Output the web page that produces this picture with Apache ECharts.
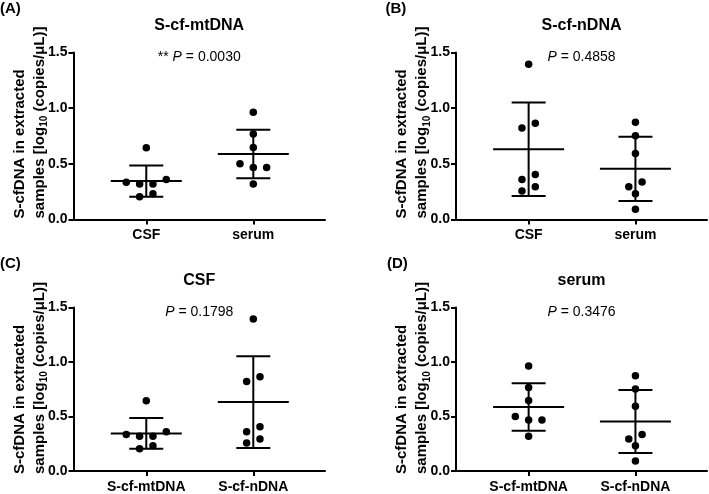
<!DOCTYPE html>
<html><head><meta charset="utf-8">
<script src="https://cdn.jsdelivr.net/npm/echarts@6/dist/echarts.min.js"></script>
<style>html,body{margin:0;padding:0;background:#fff}#c{width:709px;height:494px}</style>
</head><body><div id="c"></div>
<script>
// ---- data ----
const topCategories = ['CSF', 'serum'];
const bottomCategories = ['S-cf-mtDNA', 'S-cf-nDNA'];
const yTicks = [0, 0.5, 1.0, 1.5];

const mtCSF   = [0.644, 0.334, 0.318, 0.318, 0.360, 0.205, 0.231];
const mtSerum = [0.964, 0.767, 0.647, 0.500, 0.468, 0.468, 0.318];
const nCSF    = [1.395, 0.865, 0.821, 0.405, 0.360, 0.294, 0.256];
const nSerum  = [0.874, 0.752, 0.593, 0.336, 0.294, 0.231, 0.091];

// mean and SD (error bars)
const mtCSFStats   = [0.345, 0.141];
const mtSerumStats = [0.588, 0.218];
const nCSFStats    = [0.632, 0.420];
const nSerumStats  = [0.455, 0.289];

// horizontal scatter slots (scatter-dot-plot spreading)
const mtCSFSlot   = [0, -3, -1, 1, 3, -1, 1];
const mtSerumSlot = [0, 0, 0, -2, 0, 2, 0];
const nCSFSlot    = [0, 1, -1, 1, -1, 1, -1];
const nSerumSlot  = [0, 0, 0, 1, -1, 0, 0];

const panelLetters = ['(A)', '(B)', '(C)', '(D)'];
const panelTitles = ['S-cf-mtDNA', 'S-cf-nDNA', 'CSF', 'serum'];
const pPrefix = ['** ', '', '', ''];
const pValues = ['0.0030', '0.4858', '0.1798', '0.3476'];

// ---- layout / style ----
const FONT = '"Liberation Sans", Arial, Helvetica, sans-serif';
const grids = [
  {left: 73.5, top: 52.5, width: 251.5, height: 167},
  {left: 456,  top: 52.5, width: 251,   height: 167},
  {left: 73.5, top: 307.5, width: 251.5, height: 167.5},
  {left: 456,  top: 307.5, width: 251,   height: 167.5}
];
const letterPos = [[0, 9], [385.5, 9], [0, 264], [387, 264]];
const X_MIN = 0.32, X_MAX = 2.67, SLOT = 0.0623;

const panels = [
  {cats: topCategories, groups: [[mtCSF, mtCSFSlot, mtCSFStats], [mtSerum, mtSerumSlot, mtSerumStats]]},
  {cats: topCategories, groups: [[nCSF, nCSFSlot, nCSFStats], [nSerum, nSerumSlot, nSerumStats]]},
  {cats: bottomCategories, groups: [[mtCSF, mtCSFSlot, mtCSFStats], [nCSF, nCSFSlot, nCSFStats]]},
  {cats: bottomCategories, groups: [[mtSerum, mtSerumSlot, mtSerumStats], [nSerum, nSerumSlot, nSerumStats]]}
];

const black = '#000';
const xAxes = [], yAxes = [], series = [], graphics = [];

panels.forEach((p, i) => {
  xAxes.push({
    type: 'value', gridIndex: i, min: X_MIN, max: X_MAX,
    axisLine: {show: true, onZero: false, lineStyle: {color: black, width: 2}},
    axisTick: {show: true, customValues: [1, 2], length: 5, lineStyle: {color: black, width: 2}},
    axisLabel: {show: true, customValues: [1, 2], formatter: v => p.cats[Math.round(v) - 1],
      margin: 9, color: black, fontWeight: 'bold', fontSize: 14, fontFamily: FONT},
    splitLine: {show: false}
  });
  yAxes.push({
    type: 'value', gridIndex: i, min: yTicks[0], max: yTicks[yTicks.length - 1], interval: 0.5,
    axisLine: {show: true, lineStyle: {color: black, width: 2}},
    axisTick: {show: true, length: 5, lineStyle: {color: black, width: 2}},
    axisLabel: {formatter: v => v.toFixed(1), margin: 6, color: black, fontWeight: 'bold', fontSize: 14, fontFamily: FONT},
    splitLine: {show: false}
  });
  p.groups.forEach((g, gi) => {
    const [vals, slots] = g;
    series.push({
      type: 'scatter', xAxisIndex: i, yAxisIndex: i, symbol: 'circle', symbolSize: 7.5,
      itemStyle: {color: black, opacity: 1}, z: 3, silent: true,
      data: vals.map((v, k) => [gi + 1 + slots[k] * SLOT, v])
    });
  });
  series.push({
    type: 'custom', xAxisIndex: i, yAxisIndex: i, z: 2, silent: true,
    encode: {x: 0, y: 1},
    data: p.groups.map((g, gi) => [gi + 1, g[2][0], g[2][1]]),
    renderItem: (params, api) => {
      const x = api.value(0), m = api.value(1), s = api.value(2);
      const c = api.coord([x, m]), t = api.coord([x, m + s]), b = api.coord([x, m - s]);
      const st = {stroke: black, lineWidth: 2};
      return {type: 'group', children: [
        {type: 'line', shape: {x1: c[0], y1: t[1], x2: c[0], y2: b[1]}, style: st},
        {type: 'line', shape: {x1: c[0] - 17, y1: t[1], x2: c[0] + 17, y2: t[1]}, style: st},
        {type: 'line', shape: {x1: c[0] - 17, y1: b[1], x2: c[0] + 17, y2: b[1]}, style: st},
        {type: 'line', shape: {x1: c[0] - 35.5, y1: c[1], x2: c[0] + 35.5, y2: c[1]}, style: st}
      ]};
    }
  });

  const gr = grids[i];
  const cx = gr.left + gr.width / 2;
  graphics.push({type: 'text', x: letterPos[i][0], y: letterPos[i][1],
    style: {text: panelLetters[i], fill: black, font: 'bold 15px ' + FONT, align: 'left', verticalAlign: 'middle'}});
  graphics.push({type: 'text', x: cx, y: gr.top - 27,
    style: {text: panelTitles[i], fill: black, font: 'bold 16px ' + FONT, align: 'center', verticalAlign: 'middle'}});
  graphics.push({type: 'text', x: cx, y: gr.top + 5,
    style: {text: pPrefix[i] + '{i|P} = ' + pValues[i], fill: black, font: '14px ' + FONT,
      align: 'center', verticalAlign: 'middle',
      rich: {i: {fontStyle: 'italic', fontSize: 14, fontFamily: FONT, fill: black}}}});
  graphics.push({type: 'text', x: gr.left - 44, y: gr.top + gr.height - 1, rotation: Math.PI / 2,
    style: {
      text: '{b|S-cfDNA in extracted}\n{b|samples [log}{s|10}{b| (copies/μL)]}',
      align: 'left', verticalAlign: 'middle', fill: black,
      rich: {
        b: {fontSize: 15, fontWeight: 'bold', fontFamily: FONT, fill: black, lineHeight: 20},
        s: {fontSize: 10, fontWeight: 'bold', fontFamily: FONT, fill: black, lineHeight: 12, verticalAlign: 'bottom'}
      }
    }});
});

const chart = echarts.init(document.getElementById('c'), null, {renderer: 'canvas'});
chart.setOption({
  animation: false,
  backgroundColor: '#fff',
  grid: grids.map(g => Object.assign({containLabel: false}, g)),
  xAxis: xAxes,
  yAxis: yAxes,
  series: series,
  graphic: graphics
});
</script>
</body></html>
